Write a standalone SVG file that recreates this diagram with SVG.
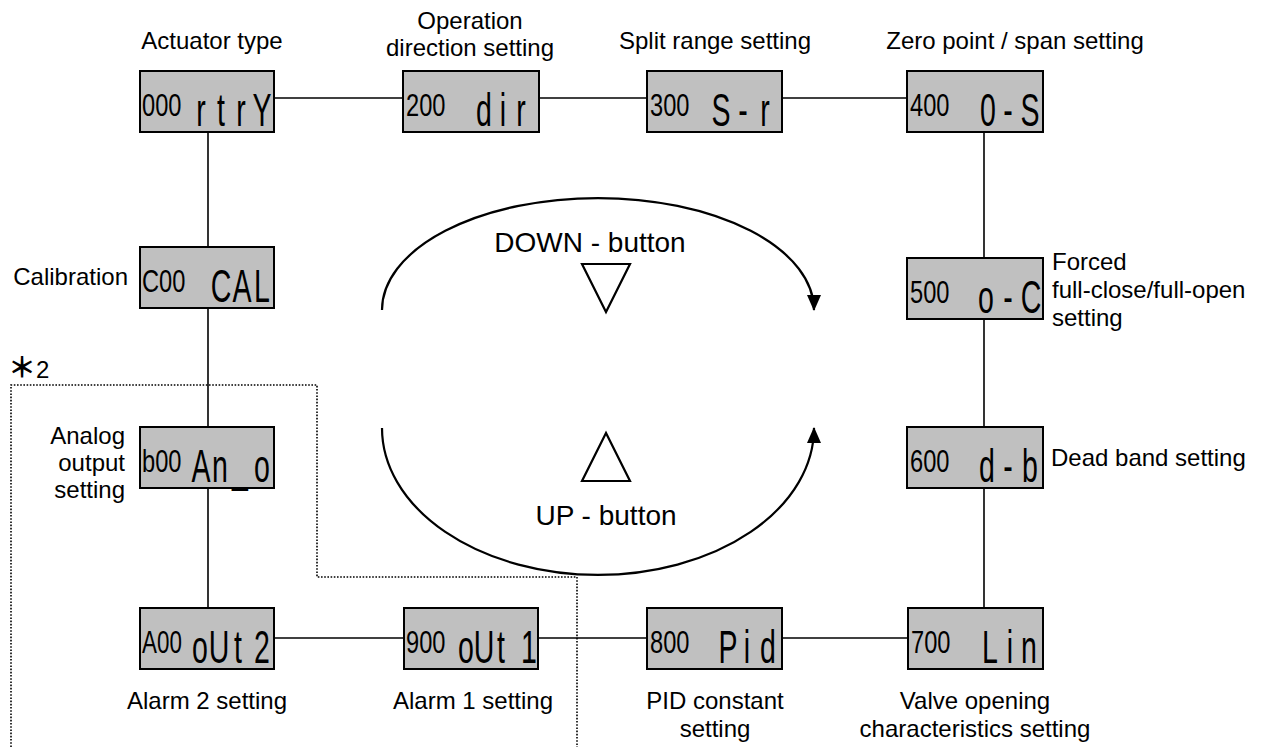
<svg xmlns="http://www.w3.org/2000/svg" width="1265" height="747" viewBox="0 0 1265 747">
<style>
.box{fill:#c0c0c0;stroke:#000;stroke-width:2}
.sm{font-family:"Liberation Sans",Arial,sans-serif;font-size:32px;fill:#000}
.bg{font-family:"Liberation Sans",Arial,sans-serif;font-size:46px;fill:#000;text-anchor:middle}
.lb{font-family:"Liberation Sans",Arial,sans-serif;font-size:24px;fill:#000}
.c{text-anchor:middle}
.e{text-anchor:end}
.btn{font-family:"Liberation Sans",Arial,sans-serif;font-size:28px;fill:#000;text-anchor:middle}
.ln{stroke:#000;stroke-width:1.6;fill:none}
.arc{stroke:#000;stroke-width:2.2;fill:none}
.dot{stroke:#000;stroke-width:1.6;fill:none;stroke-dasharray:1.6 1.6}
.tri{stroke:#000;stroke-width:2.2;fill:#fff;stroke-linejoin:miter}
</style>
<defs>
<marker id="ah" viewBox="0 0 16 14" refX="15" refY="7" markerWidth="16" markerHeight="14" markerUnits="userSpaceOnUse" orient="auto">
<path d="M0,0 L16,7 L0,14 Z" fill="#000"/>
</marker>
</defs>

<g id="connectors">
<line class="ln" x1="274" y1="98" x2="403" y2="98"/>
<line class="ln" x1="539" y1="98" x2="647" y2="98"/>
<line class="ln" x1="782" y1="98" x2="907" y2="98"/>
<line class="ln" x1="208" y1="132" x2="208" y2="247"/>
<line class="ln" x1="208" y1="308" x2="208" y2="427"/>
<line class="ln" x1="208" y1="488" x2="208" y2="608"/>
<line class="ln" x1="984" y1="132" x2="984" y2="258"/>
<line class="ln" x1="984" y1="319" x2="984" y2="427"/>
<line class="ln" x1="984" y1="488" x2="984" y2="608"/>
<line class="ln" x1="274" y1="638" x2="404" y2="638"/>
<line class="ln" x1="538" y1="638" x2="647" y2="638"/>
<line class="ln" x1="781" y1="638" x2="908" y2="638"/>
<path class="arc" d="M382,310 A216,112 0 0 1 814,310" marker-end="url(#ah)"/>
<path class="arc" d="M382,428 A216,147 0 0 0 814,428" marker-end="url(#ah)"/>
</g>

<path id="group-2" class="dot" d="M11,747 L11,385 L317,385 L317,577 L577,577 L577,747"/>
<text class="lb" x="8" y="378"><tspan font-family="'Noto Sans CJK JP',sans-serif" font-size="28" font-weight="bold">＊</tspan>2</text>

<g id="buttons">
<polygon class="tri" points="582,264 630,264 606,312"/>
<polygon class="tri" points="606,433 582,481 630,481"/>
<text class="btn" x="590" y="252">DOWN - button</text>
<text class="btn" x="606" y="525">UP - button</text>
</g>

<g id="n000">
<rect class="box" x="140" y="71" width="134" height="61"/>
<text class="sm" transform="translate(142,116) scale(0.74,1)">000</text>
<text class="bg" transform="translate(201,126) scale(0.62,1)">r</text>
<text class="bg" transform="translate(221,126) scale(0.62,1)">t</text>
<text class="bg" transform="translate(241,126) scale(0.62,1)">r</text>
<text class="bg" transform="translate(262,126) scale(0.62,1)">Y</text>
<text class="lb c" x="212" y="49">Actuator type</text>
</g>

<g id="n200">
<rect class="box" x="403" y="71" width="136" height="61"/>
<text class="sm" transform="translate(406,116) scale(0.74,1)">200</text>
<text class="bg" transform="translate(484,126) scale(0.62,1)">d</text>
<text class="bg" transform="translate(503,126) scale(0.62,1)">i</text>
<text class="bg" transform="translate(521,126) scale(0.62,1)">r</text>
<text class="lb c" x="470" y="29">Operation</text>
<text class="lb c" x="470" y="56">direction setting</text>
</g>

<g id="n300">
<rect class="box" x="647" y="71" width="135" height="61"/>
<text class="sm" transform="translate(650,116) scale(0.74,1)">300</text>
<text class="bg" transform="translate(721,126) scale(0.62,1)">S</text>
<text class="bg" transform="translate(743,126) scale(0.62,1)">-</text>
<text class="bg" transform="translate(765,126) scale(0.62,1)">r</text>
<text class="lb c" x="715" y="49">Split range setting</text>
</g>

<g id="n400">
<rect class="box" x="907" y="71" width="136" height="61"/>
<text class="sm" transform="translate(910,116) scale(0.74,1)">400</text>
<text class="bg" transform="translate(988,126) scale(0.62,1)">0</text>
<text class="bg" transform="translate(1008,126) scale(0.62,1)">-</text>
<text class="bg" transform="translate(1030,126) scale(0.62,1)">S</text>
<text class="lb c" x="1015" y="49">Zero point / span setting</text>
</g>

<g id="n500">
<rect class="box" x="907" y="258" width="136" height="61"/>
<text class="sm" transform="translate(910,303) scale(0.74,1)">500</text>
<text class="bg" transform="translate(986,313) scale(0.62,1)">o</text>
<text class="bg" transform="translate(1008,313) scale(0.62,1)">-</text>
<text class="bg" transform="translate(1031,313) scale(0.62,1)">C</text>
<text class="lb" x="1052" y="270">Forced</text>
<text class="lb" x="1052" y="298">full-close/full-open</text>
<text class="lb" x="1052" y="326">setting</text>
</g>

<g id="n600">
<rect class="box" x="907" y="427" width="136" height="61"/>
<text class="sm" transform="translate(910,472) scale(0.74,1)">600</text>
<text class="bg" transform="translate(987,482) scale(0.62,1)">d</text>
<text class="bg" transform="translate(1008,482) scale(0.62,1)">-</text>
<text class="bg" transform="translate(1030,482) scale(0.62,1)">b</text>
<text class="lb" x="1051" y="466">Dead band setting</text>
</g>

<g id="n700">
<rect class="box" x="908" y="608" width="135" height="61"/>
<text class="sm" transform="translate(911,653) scale(0.74,1)">700</text>
<text class="bg" transform="translate(990,663) scale(0.62,1)">L</text>
<text class="bg" transform="translate(1010,663) scale(0.62,1)">i</text>
<text class="bg" transform="translate(1029,663) scale(0.62,1)">n</text>
<text class="lb c" x="975" y="709">Valve opening</text>
<text class="lb c" x="975" y="737">characteristics setting</text>
</g>

<g id="n800">
<rect class="box" x="647" y="608" width="135" height="61"/>
<text class="sm" transform="translate(650,653) scale(0.74,1)">800</text>
<text class="bg" transform="translate(728,663) scale(0.62,1)">P</text>
<text class="bg" transform="translate(747,663) scale(0.62,1)">i</text>
<text class="bg" transform="translate(768,663) scale(0.62,1)">d</text>
<text class="lb c" x="715" y="709">PID constant</text>
<text class="lb c" x="715" y="737">setting</text>
</g>

<g id="n900">
<rect class="box" x="404" y="608" width="134" height="61"/>
<text class="sm" transform="translate(406,653) scale(0.74,1)">900</text>
<text class="bg" transform="translate(466,663) scale(0.62,1)">o</text>
<text class="bg" transform="translate(484,663) scale(0.62,1)">U</text>
<text class="bg" transform="translate(501,663) scale(0.62,1)">t</text>
<text class="bg" transform="translate(529,663) scale(0.62,1)">1</text>
<text class="lb c" x="473" y="709">Alarm 1 setting</text>
</g>

<g id="nA00">
<rect class="box" x="140" y="608" width="134" height="61"/>
<text class="sm" transform="translate(142,653) scale(0.7,1)">A00</text>
<text class="bg" transform="translate(200,663) scale(0.62,1)">o</text>
<text class="bg" transform="translate(219,663) scale(0.62,1)">U</text>
<text class="bg" transform="translate(238,663) scale(0.62,1)">t</text>
<text class="bg" transform="translate(262,663) scale(0.62,1)">2</text>
<text class="lb c" x="207" y="709">Alarm 2 setting</text>
</g>

<g id="nb00">
<rect class="box" x="140" y="427" width="134" height="61"/>
<text class="sm" transform="translate(142,472) scale(0.74,1)">b00</text>
<text class="bg" transform="translate(201,482) scale(0.62,1)">A</text>
<text class="bg" transform="translate(220,482) scale(0.62,1)">n</text>
<text class="bg" transform="translate(240,482) scale(0.62,1)">_</text>
<text class="bg" transform="translate(262,482) scale(0.62,1)">o</text>
<text class="lb e" x="125" y="444">Analog</text>
<text class="lb e" x="125" y="471">output</text>
<text class="lb e" x="125" y="498">setting</text>
</g>

<g id="nC00">
<rect class="box" x="140" y="247" width="134" height="61"/>
<text class="sm" transform="translate(142,292) scale(0.74,1)">C00</text>
<text class="bg" transform="translate(221,302) scale(0.62,1)">C</text>
<text class="bg" transform="translate(242,302) scale(0.62,1)">A</text>
<text class="bg" transform="translate(262,302) scale(0.62,1)">L</text>
<text class="lb e" x="128" y="285">Calibration</text>
</g>
</svg>
